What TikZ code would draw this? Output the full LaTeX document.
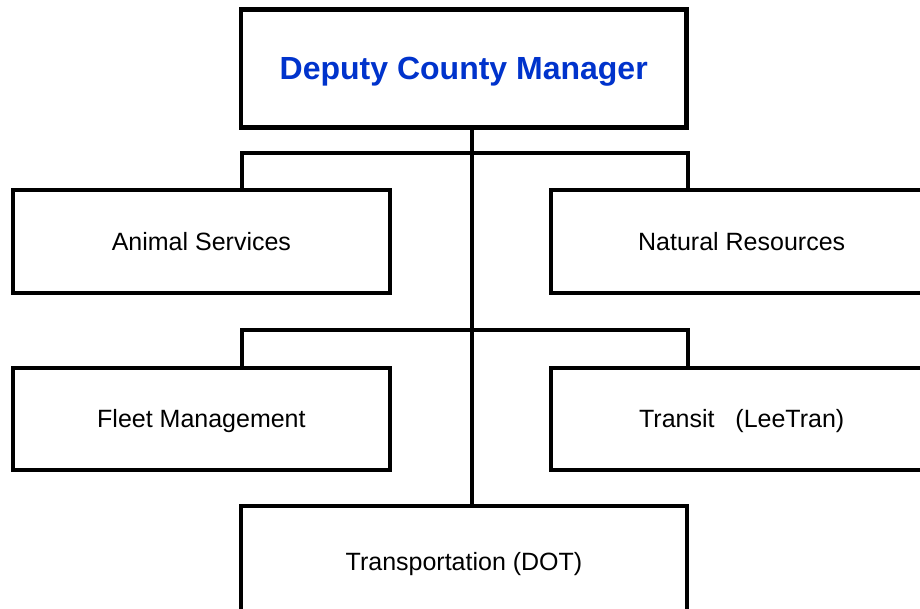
\documentclass[tikz,border=0pt]{standalone}
\usepackage{fontspec}
\setmainfont{Liberation Sans}
\definecolor{headblue}{RGB}{0,51,204}
\begin{document}
\begin{tikzpicture}[x=1pt,y=-1pt,
  box/.style={draw=black,line width=4.2pt,fill=white,inner sep=0pt,anchor=center,
    font=\fontsize{25}{30}\selectfont,text=black,text height=17.9pt,text depth=0pt},
  headbox/.style={box,font=\fontsize{32}{38}\selectfont\bfseries,text=headblue,text height=22.9pt},
  link/.style={draw=black,line width=4.2pt,line join=miter}]
\useasboundingbox (0,0) rectangle (920,608);
\clip (0,0) rectangle (920,608);
\fill[white] (0,0) rectangle (920,608);
% nodes
\node[headbox,minimum width=445.5pt,minimum height=118pt] (top) at (463.75,68.5) {Deputy County Manager};
\node[box,minimum width=377.3pt,minimum height=103pt] (anim) at (201.4,241.5) {Animal Services};
\node[box,minimum width=381.4pt,minimum height=103pt] (nat) at (741.7,241.5) {Natural Resources};
\node[box,minimum width=377.3pt,minimum height=102pt] (fleet) at (201.4,419) {Fleet Management};
\node[box,minimum width=381.4pt,minimum height=102pt] (transit) at (741.7,419) {Transit\ \ \ (LeeTran)};
\node[box,minimum width=446pt,minimum height=112pt] (dot) at (464,562) {Transportation (DOT)};
% junction coordinates
\coordinate (spine) at (471.7,0);
\coordinate (l1) at (242,153);
\coordinate (r1) at (688,153);
\coordinate (l2) at (242,330);
\coordinate (r2) at (688,330);
% connectors
\draw[link] (top.south -| spine) -- (dot.north -| spine);
\draw[link] (anim.north -| l1) -- (l1) -- (r1) -- (nat.north -| r1);
\draw[link] (fleet.north -| l2) -- (l2) -- (r2) -- (transit.north -| r2);
\end{tikzpicture}
\end{document}
